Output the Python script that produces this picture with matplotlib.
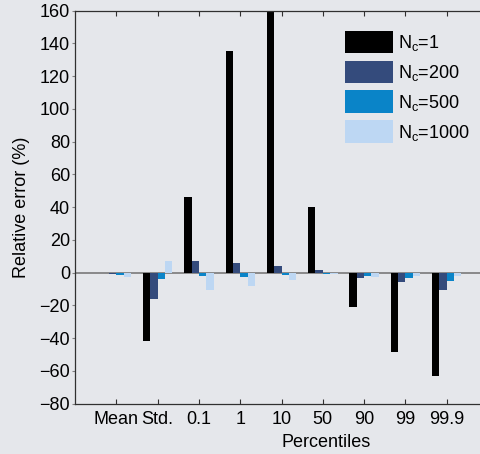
import matplotlib
matplotlib.use("Agg")
import matplotlib.pyplot as plt
import numpy as np

plt.rcParams['font.family'] = ['Liberation Sans', 'DejaVu Sans']
plt.rcParams['mathtext.default'] = 'regular'

# relative error (%) per statistic, one list per number of clusters
categories = ["Mean", "Std.", "0.1", "1", "10", "50", "90", "99", "99.9"]
err_nc1 = [0.0, -41.5, 46.4, 135.4, 160.0, 40.3, -20.8, -48.4, -63.1]
err_nc200 = [-0.5, -16.0, 6.9, 5.7, 4.1, 1.6, -3.1, -5.9, -10.4]
err_nc500 = [-1.2, -3.9, -1.8, -2.8, -1.4, -0.6, -1.8, -3.0, -4.9]
err_nc1000 = [-2.4, 7.1, -10.6, -7.9, -4.3, -1.0, -2.4, -2.2, -2.0]
series_labels = ["N$_c$=1", "N$_c$=200", "N$_c$=500", "N$_c$=1000"]

BG = '#e5e7eb'
COLORS = ['#000000', '#344b7c', '#0a84c8', '#bdd7f3']
BAR_W = 0.178

fig = plt.figure(figsize=(4.8, 4.54), dpi=100, facecolor=BG)
ax = fig.add_axes([0.1563, 0.1108, 0.8604, 0.8656])
ax.set_facecolor(BG)

x = np.arange(1, len(categories) + 1)
all_series = [err_nc1, err_nc200, err_nc500, err_nc1000]
for i, (vals, col, lab) in enumerate(zip(all_series, COLORS, series_labels)):
    ax.bar(x + (i - 1.5) * BAR_W, vals, width=BAR_W, color=col,
           linewidth=0, label=lab, zorder=2)

# bar baseline
ax.axhline(0, color='#707070', lw=1.1, zorder=1)

ax.set_xlim(0, 10)
ax.set_ylim(-80, 160)
ax.set_yticks(np.arange(-80, 161, 20))
ax.set_xticks(x)
ax.set_xticklabels(categories)

for side in ['left', 'bottom', 'top']:
    ax.spines[side].set_color('#303030')
    ax.spines[side].set_linewidth(0.9)
ax.spines['right'].set_visible(False)

ax.tick_params(axis='x', which='both', direction='in', top=True, bottom=True,
               length=3.5, width=0.8, color='#303030', pad=5, labelsize=13)
ax.tick_params(axis='y', direction='out', length=2, width=0.8,
               color='#808080', pad=1.5, labelsize=13)

ax.set_ylabel("Relative error (%)", fontsize=13)
ax.yaxis.set_label_coords(-0.108, 0.5)
ax.set_xlabel("Percentiles", fontsize=13)
ax.xaxis.set_label_coords(0.608, -0.078)

ax.legend(loc='upper left', bbox_to_anchor=(0.654, 0.949), frameon=False,
          fontsize=13, handlelength=2.67, handleheight=1.55,
          labelspacing=0.4, handletextpad=0.25, borderpad=0,
          borderaxespad=0)

fig.savefig("out.png", dpi=100, facecolor=BG)
